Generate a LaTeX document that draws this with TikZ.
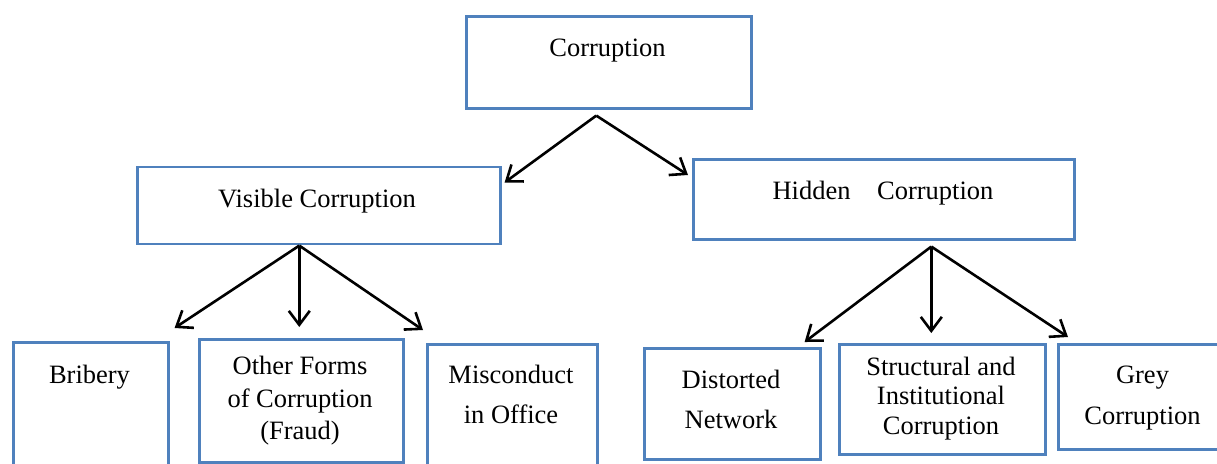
\documentclass[tikz,border=0pt]{standalone}
\usepackage{fontspec}
\setmainfont{Liberation Serif}
\usetikzlibrary{arrows.meta}
\definecolor{boxblue}{RGB}{79,129,189}
\tikzset{
  cbox/.style={draw=boxblue,line width=2.6pt,rectangle,inner sep=0pt,anchor=north west},
  boxtxt/.style={align=center,inner sep=0pt,font=\fontsize{26.5}{#1}\selectfont},
  boxtxt/.default=32,
  arr/.style={line width=2.6pt,-{Straight Barb[length=14pt,width=21pt,line width=2.6pt]}}
}
\begin{document}
\begin{tikzpicture}[x=1pt,y=-1pt]
			\useasboundingbox (0,0) rectangle (1217,463);
			% boxes
			\node[cbox,minimum width=285,minimum height=92] (corr) at (465,15) {};
			\node[cbox,minimum width=363,minimum height=77] (vis) at (136,165.5) {};
			\node[cbox,minimum width=381,minimum height=80] (hid) at (692,158) {};
			\node[cbox,minimum width=155,minimum height=150] (bri) at (12,341) {};
			\node[cbox,minimum width=204,minimum height=123] (oth) at (198,338) {};
			\node[cbox,minimum width=170,minimum height=150] (mis) at (426,343) {};
			\node[cbox,minimum width=176,minimum height=111] (dis) at (643,347) {};
			\node[cbox,minimum width=206,minimum height=110] (str) at (838,343) {};
			\node[cbox,minimum width=190,minimum height=105] (gre) at (1057,343) {};
			% texts
			\node[boxtxt] (corrtxt) at (607.5,50.8) {Corruption};
			\node[boxtxt] (vistxt) at (317,200.8) {Visible Corruption};
			\node[boxtxt] (hidtxt) at (883,192.8) {Hidden\hspace{1em}Corruption};
			\node[boxtxt] (britxt) at (89.5,376.8) {Bribery};
			\node[boxtxt=32.5] (othtxt) at (300,400.8) {Other Forms\\of Corruption\\(Fraud)};
			\node[boxtxt=40] (mistxt) at (511,394) {Misconduct\\in Office};
			\node[boxtxt=40] (distxt) at (731,399) {Distorted\\Network};
			\node[boxtxt=29.5] (strtxt) at (941,398.3) {Structural and\\Institutional\\Corruption};
			\node[boxtxt=41] (gretxt) at (1142.5,397.6) {Grey\\Corruption};
			% forks and arrow tips
			\path
			([shift={(-12.5,6)}]corr.south) coordinate (f0)
			(vis.south) ++(-19.5,0.5) coordinate (f1)
			([shift={(47.5,6)}]hid.south) coordinate (f2)
			([shift={(3,17)}]vis.north east) coordinate (t-vis)
			([shift={(-4,17)}]hid.north west) coordinate (t-hid)
			([shift={(5,-13)}]bri.north east) coordinate (t-bri)
			([shift={(-2,-11)}]oth.north) coordinate (t-oth)
			([shift={(-3,-13)}]mis.north west) coordinate (t-mis)
			([shift={(-17,-5)}]dis.north east) coordinate (t-dis)
			([shift={(-11,-10)}]str.north) coordinate (t-str)
			([shift={(11,-6)}]gre.north west) coordinate (t-gre)
			;
			\foreach \f/\t in {f0/vis,f0/hid,f1/bri,f1/oth,f1/mis,f2/dis,f2/str,f2/gre}
			\draw[arr] (\f) -- (t-\t);
		\end{tikzpicture}
\end{document}
